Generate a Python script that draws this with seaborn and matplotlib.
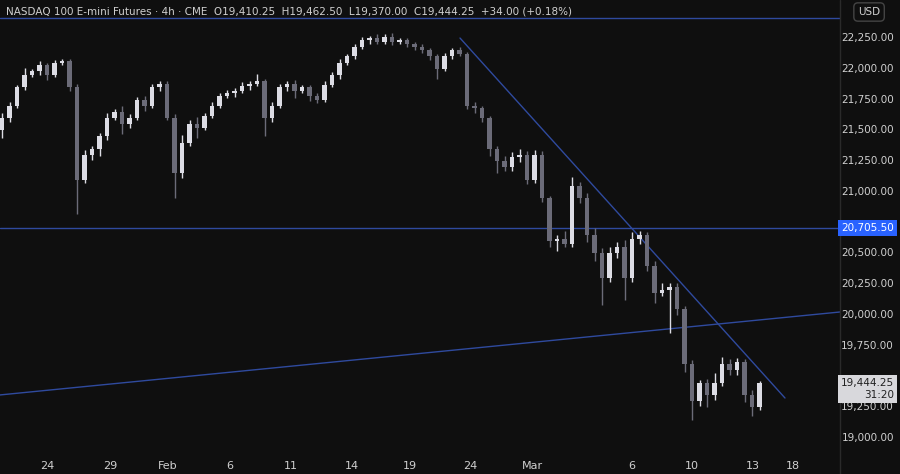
import matplotlib
matplotlib.use("Agg")
import matplotlib.pyplot as plt
import seaborn as sns
import numpy as np

closes = [21600,21700,21850,21950,21980,22030,21950,22050,22060,21850,
          21100,21300,21350,21450,21600,21650,21550,21600,21750,21700,
          21850,21880,21600,21150,21400,21550,21520,21620,21700,21780,
          21800,21820,21860,21880,21900,21600,21700,21850,21880,21820,
          21850,21780,21750,21870,21950,22050,22100,22180,22230,22250,
          22220,22260,22220,22230,22200,22180,22150,22100,22000,22100,
          22150,22120,21700,21680,21600,21350,21250,21200,21280,21300,
          21100,21300,20950,20600,20620,20580,21050,20950,20650,20500,
          20300,20500,20550,20300,20620,20650,20400,20180,20200,20230,
          20050,19600,19300,19450,19350,19450,19600,19550,19620,19350,
          19250,19444.25]
first_open = 21500
upper_wick = [40,30,20,60,20,30,20,25,20,20,
              30,40,20,30,40,20,50,30,20,30,
              30,20,20,30,60,30,60,20,30,20,
              30,20,30,20,60,20,30,30,20,30,
              20,20,20,30,20,30,20,20,30,20,
              30,20,30,20,20,20,20,20,20,30,
              20,30,20,30,20,20,20,40,40,50,
              30,40,30,20,30,60,70,30,40,60,
              40,50,40,60,50,30,20,40,60,30,
              30,20,30,20,30,80,60,40,30,20,
              40,20]
lower_wick = [60,30,20,20,20,30,40,20,20,30,
              280,30,40,60,30,20,80,30,20,40,
              20,30,20,200,40,30,80,20,20,20,
              20,30,20,30,20,150,30,20,30,60,
              20,40,30,20,20,30,20,20,20,30,
              20,20,30,20,20,30,20,30,80,20,
              20,20,30,40,30,60,100,30,30,40,
              40,30,30,50,80,30,30,40,60,60,
              220,30,40,180,30,40,40,80,30,350,
              50,60,150,40,100,40,30,40,40,60,
              70,20]

dates = ["24","29","Feb","6","11","14","19","24","Mar","6","10","13","18"]
date_px = [47,110,168,230,291,352,410,470,532,632,692,753,793]
yticks = [19000,19250,19500,19750,20000,20250,20500,20750,21000,21250,21500,21750,22000,22250]

sns.set_theme(style="dark")
bg = "#0f0f0f"
fig = plt.figure(figsize=(9, 4.74), dpi=100, facecolor=bg)
ax = fig.add_axes([0, 19/474, 840/900, 455/474])
ax.set_facecolor(bg)
for s in ax.spines.values():
    s.set_visible(False)

n = len(closes)
idx = np.arange(n)
opens = np.array([first_open] + closes[:-1], dtype=float)
c = np.array(closes, dtype=float)
hi = np.maximum(opens, c) + np.array(upper_wick)
lo = np.minimum(opens, c) - np.array(lower_wick)
up = c >= opens
cols = np.where(up, "#dcdce4", "#6b6b78")
ax.vlines(idx, lo, hi, colors=cols, linewidth=1, zorder=2)
body_b = np.minimum(opens, c)
body_h = np.maximum(np.abs(c - opens), 6)
ax.bar(idx, body_h, bottom=body_b, width=0.6, color=cols, zorder=3, linewidth=0)

px2i = lambda x: (x - 2) / 7.5
ax.set_xlim(px2i(0), px2i(840))
ax.set_ylim(18862, 22559)

line_c = "#2f4a9e"
ax.axhline(22412, color=line_c, lw=1, zorder=1)
ax.axhline(20705.5, color=line_c, lw=1, zorder=1)
ax.plot([px2i(460), px2i(785)], [22250, 19325], color=line_c, lw=1, zorder=1)
ax.plot([px2i(0), px2i(840)], [19350, 20024], color=line_c, lw=1, zorder=1)

ax.set_xticks([px2i(p) for p in date_px])
ax.set_xticklabels(dates, color="#d0d0d0", fontsize=8)
ax.tick_params(axis="x", length=0, pad=4)
ax.set_yticks([])
ax.grid(False)

def ytag(v):
    return ax.transData.transform((0, v))[1] / 474

for v in yticks:
    if abs(v - 20705.5) < 60 or abs(v - 19444) < 120:
        continue
    fig.text(894/900, ytag(v), f"{v:,.2f}",
             color="#d0d0d0", fontsize=7.5, va="center", ha="right")
fig.add_artist(plt.Line2D([840/900, 840/900], [0, 1], color="#2a2a2a", lw=1))

fig.text(894/900, ytag(20705.5), "20,705.50", color="white", fontsize=7.5, va="center",
         ha="right", bbox=dict(boxstyle="square,pad=0.3", fc="#2962ff", ec="none"))
fig.text(894/900, ytag(19444.25) - 0.012, "19,444.25\n31:20", color="#202020", fontsize=7.5,
         va="center", ha="right", linespacing=1.2,
         bbox=dict(boxstyle="square,pad=0.3", fc="#d8d8dc", ec="none"))
fig.text(858/900, 1 - 12/474, "USD", color="#d0d0d0", fontsize=7.5, va="center", ha="left",
         bbox=dict(boxstyle="round,pad=0.4", fc=bg, ec="#444444"))
fig.text(6/900, 1 - 11/474,
         "NASDAQ 100 E-mini Futures · 4h · CME  O19,410.25  H19,462.50  L19,370.00  C19,444.25  +34.00 (+0.18%)",
         color="#d0d0d0", fontsize=7.5, va="center", ha="left")

fig.savefig("out.png", dpi=100, facecolor=bg)
